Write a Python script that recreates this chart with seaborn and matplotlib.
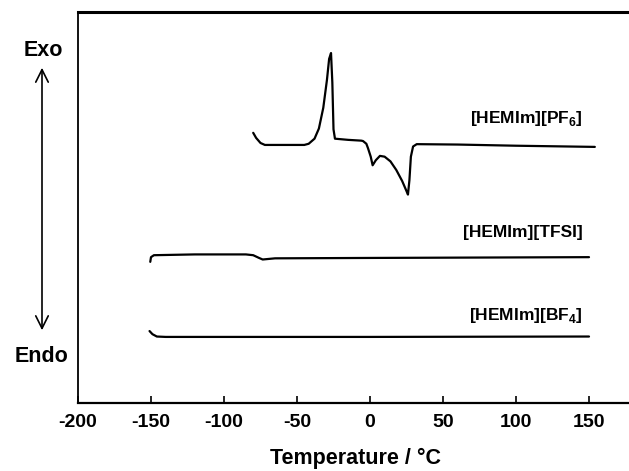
import matplotlib
matplotlib.use("Agg")
import matplotlib.pyplot as plt
import seaborn as sns
import pandas as pd

# Temperature (°C) and heat-flow (arbitrary units, stacked traces)
pf6_t = [-80, -78, -75, -72, -60, -45, -42, -38, -35, -32, -29.5, -28, -26.7, -25.8,
         -25.0, -24.0, -15, -6, -4.8, -2.5, -1.4, 0.5, 1.8, 4, 6.8, 10, 14, 18, 22,
         25, 26, 27, 28, 29.5, 32, 60, 100, 154]
pf6_y = [69.1, 67.8, 66.5, 66.0, 66.0, 66.0, 66.3, 67.6, 70.2, 75.5, 82.6, 88.0, 89.5,
         82.0, 70.0, 67.6, 67.3, 67.1, 67.0, 66.3, 65.2, 63.0, 60.8, 62.1, 63.2, 63.0,
         61.8, 59.6, 56.8, 54.2, 53.3, 57.0, 63.0, 65.6, 66.2, 66.1, 65.8, 65.5]

tfsi_t = [-150.5, -150, -148, -120, -85, -80, -76, -73.5, -65, 0, 150]
tfsi_y = [36.1, 37.3, 37.8, 38.0, 38.0, 37.8, 37.1, 36.7, 37.0, 37.1, 37.3]

bf4_t = [-151, -149, -146, -140, 0, 150]
bf4_y = [18.4, 17.6, 17.0, 16.9, 16.9, 17.0]

labels = ["[HEMIm][PF$_\\mathbf{6}$]", "[HEMIm][TFSI]", "[HEMIm][BF$_\\mathbf{4}$]"]
label_pos = [(146, 72.8), (146, 43.6), (146, 22.4)]
x_ticks = [-200, -150, -100, -50, 0, 50, 100, 150]

sns.set_theme(style="ticks")
plt.rcParams["font.family"] = ["Liberation Sans", "DejaVu Sans"]
plt.rcParams["font.weight"] = "bold"
plt.rcParams["text.color"] = "black"
plt.rcParams["axes.labelcolor"] = "black"
plt.rcParams["xtick.color"] = "black"
plt.rcParams["mathtext.fontset"] = "custom"
plt.rcParams["mathtext.bf"] = "Liberation Sans:bold"
plt.rcParams["mathtext.rm"] = "Liberation Sans:bold"

fig = plt.figure(figsize=(6.29, 4.71), dpi=100)
ax = fig.add_axes([78 / 629, 68 / 471, 380 * 1.46 / 629, 391 / 471])

frames = [
    pd.DataFrame({"T": pf6_t, "Q": pf6_y}),
    pd.DataFrame({"T": tfsi_t, "Q": tfsi_y}),
    pd.DataFrame({"T": bf4_t, "Q": bf4_y}),
]
for df in frames:
    sns.lineplot(data=df, x="T", y="Q", ax=ax, color="black", lw=1.6,
                 sort=False, estimator=None)

for lab, (x, y) in zip(labels, label_pos):
    ax.text(x, y, lab, ha="right", va="center", fontsize=12.5, fontweight="bold",
            color="black")

ax.set_xlim(-200, 180)
ax.set_ylim(0, 100)
ax.set_xticks(x_ticks)
ax.set_xticklabels([str(t) for t in x_ticks], fontsize=14, fontweight="bold")
ax.set_yticks([])
ax.tick_params(axis="x", direction="in", length=5, width=1.2, pad=8, top=False,
               labelcolor="black")
ax.set_xlabel("Temperature / °C", fontsize=15.5, fontweight="bold", labelpad=12,
              color="black")
ax.set_ylabel("")
for side in ["top", "left", "bottom", "right"]:
    ax.spines[side].set_visible(True)
    ax.spines[side].set_color("black")
ax.spines["top"].set_linewidth(2.2)
ax.spines["left"].set_linewidth(1.3)
ax.spines["bottom"].set_linewidth(1.6)

# Exo / Endo annotation outside the axes
fig.text(43 / 629, 1 - 50 / 471, "Exo", ha="center", va="center", fontsize=15.5,
         fontweight="bold", color="black")
fig.text(41 / 629, 1 - 357 / 471, "Endo", ha="center", va="center", fontsize=15.5,
         fontweight="bold", color="black")
fig.add_artist(matplotlib.patches.FancyArrowPatch(
    (42 / 629, 1 - 333 / 471), (42 / 629, 1 - 65 / 471),
    transform=fig.transFigure, arrowstyle="<->,head_length=6,head_width=3",
    color="black", lw=1.2, mutation_scale=1.5))

fig.savefig("out.png", dpi=100)
